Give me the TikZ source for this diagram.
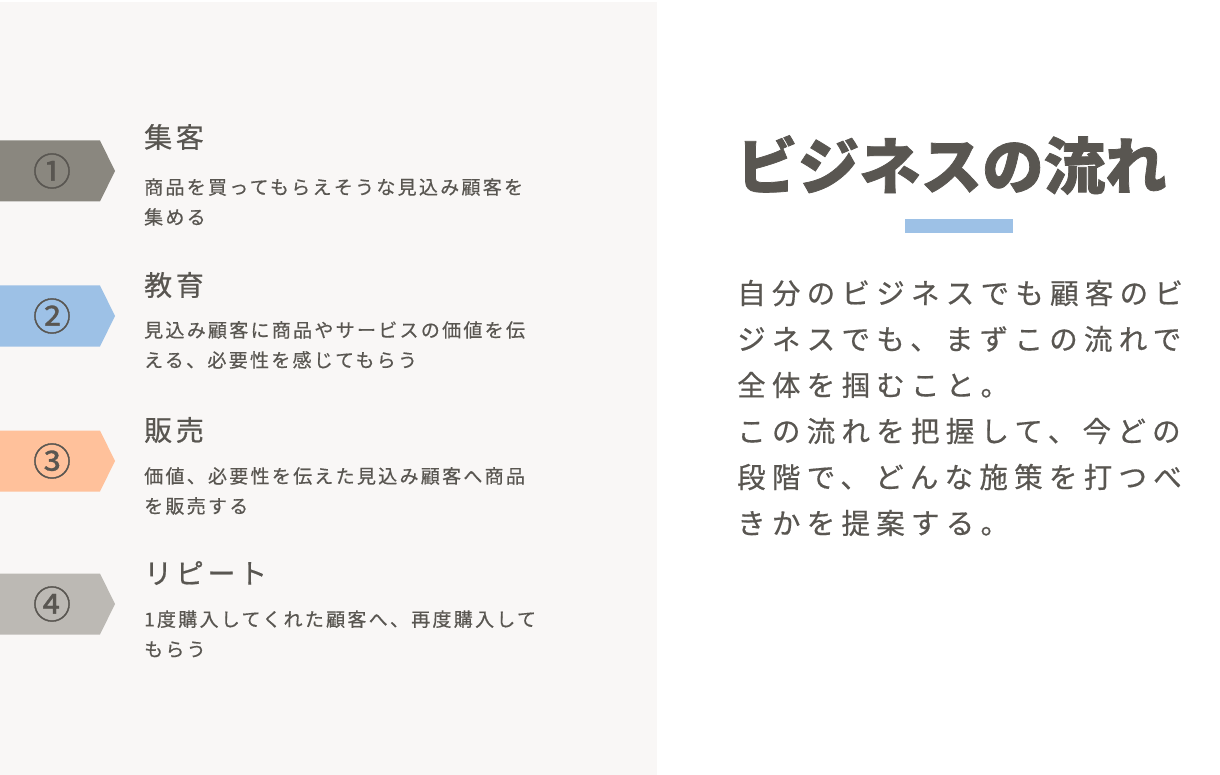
\documentclass[tikz,border=0pt]{standalone}
\usepackage{fontspec}
\newfontfamily\cjk{Noto Sans CJK JP}
\definecolor{txt}{HTML}{595651}
\definecolor{leftbg}{HTML}{F9F7F6}
\definecolor{cA}{HTML}{8A877F}
\definecolor{cB}{HTML}{9DC1E6}
\definecolor{cC}{HTML}{FFC19B}
\definecolor{cD}{HTML}{BCB9B4}
\tikzset{
  num/.style={text=txt, inner sep=0, font=\cjk\addfontfeatures{FakeBold=0.9}\fontsize{38}{38}\selectfont},
  ttl/.style={text=txt, inner sep=0, anchor=west, font=\cjk\addfontfeatures{LetterSpace=13,FakeBold=0.6}\fontsize{28}{28}\selectfont},
  dsc/.style={text=txt, inner sep=0, anchor=west, align=left, font=\cjk\addfontfeatures{LetterSpace=12,FakeBold=0.5}\fontsize{19}{30}\selectfont},
  body/.style={text=txt, inner sep=0, anchor=west, align=left, font=\cjk\addfontfeatures{LetterSpace=22,FakeBold=0.5}\fontsize{28.5}{46}\selectfont},
  head/.style={text=txt, inner sep=0, anchor=west, font=\cjk\bfseries\addfontfeatures{FakeBold=1.2}\fontsize{61.5}{62}\selectfont},
}
\begin{document}
\begin{tikzpicture}[x=1pt,y=-1pt]
\useasboundingbox (0,0) rectangle (1220,775);
\fill[white] (0,0) rectangle (1220,775);
\fill[leftbg] (0,2) rectangle (657,775);
% arrows
\foreach \c/\y in {cA/171,cB/316,cC/461,cD/604}{
  \fill[\c] (0,\y-30.5) -- (100,\y-30.5) -- (115,\y) -- (100,\y+30.5) -- (0,\y+30.5) -- cycle;
}
\node[num] (n1) at (52,171) {①};
\node[num] (n2) at (52,316) {②};
\node[num] (n3) at (52,461) {③};
\node[num] (n4) at (52,604) {④};
% items
\node[ttl] (t1) at (144,137) {集客};
\node[dsc] (d1) at (144,202) {商品を買ってもらえそうな見込み顧客を\\集める};
\node[ttl] (t2) at (144,285) {教育};
\node[dsc] (d2) at (144,345) {見込み顧客に商品やサービスの価値を伝\\える、必要性を感じてもらう};
\node[ttl] (t3) at (144,430) {販売};
\node[dsc] (d3) at (144,491) {価値、必要性を伝えた見込み顧客へ商品\\を販売する};
\node[ttl] (t4) at (144,573) {リピート};
\node[dsc] (d4) at (144,634) {1度購入してくれた顧客へ、再度購入して\\もらう};
% right
\node[head] (h) at (736,165) {ビジネスの流れ};
\fill[cB] (905,219) rectangle (1013,233);
\node[body] (b) at (737,408) {自分のビジネスでも顧客のビ\\ジネスでも、まずこの流れで\\全体を掴むこと。\\この流れを把握して、今どの\\段階で、どんな施策を打つべ\\きかを提案する。};
\end{tikzpicture}
\end{document}
